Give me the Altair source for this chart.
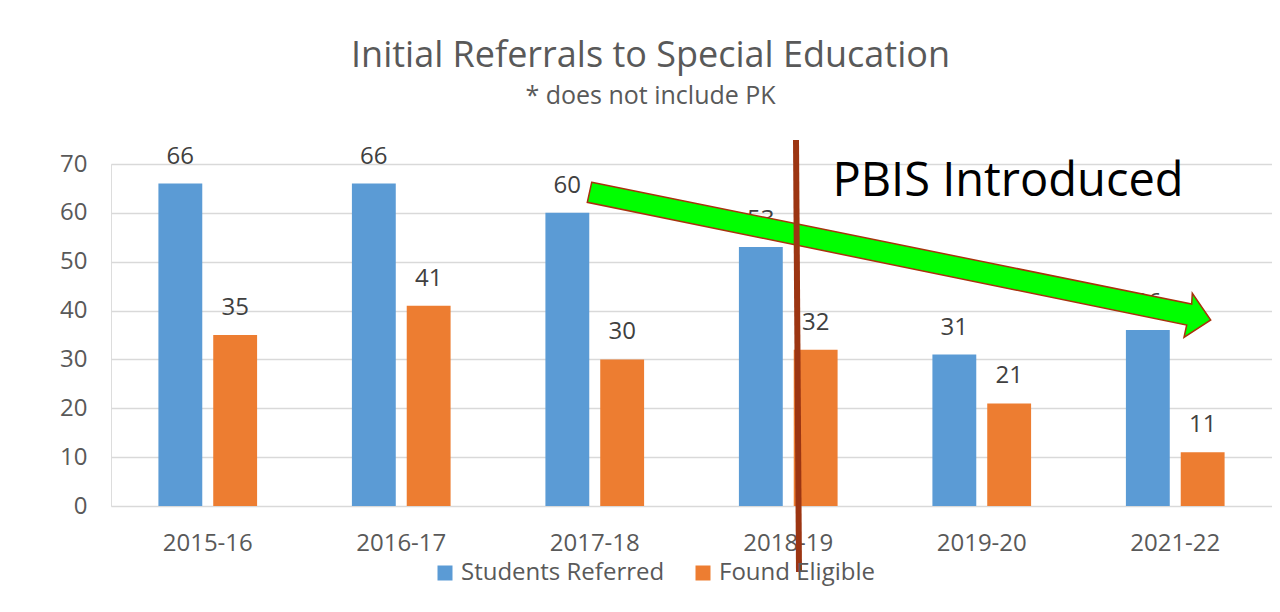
import altair as alt
import pandas as pd

# ---- data ----
years = ["2015-16", "2016-17", "2017-18", "2018-19", "2019-20", "2021-22"]
students_referred = [66, 66, 60, 53, 31, 36]
found_eligible = [35, 41, 30, 32, 21, 11]
series_names = ["Students Referred", "Found Eligible"]
series_colors = ["#5B9BD5", "#ED7D31"]
y_ticks = [0, 10, 20, 30, 40, 50, 60, 70]

annotation_text = "PBIS Introduced"

# annotation geometry (pixels in the plot area)
arrow_outline = [(480.7, 18.3), (1080.7, 140.0), (1081.3, 129.3), (1099.7, 156.0),
                 (1073.0, 173.3), (1075.7, 161.0), (476.3, 38.3)]
divider_ends = [(685, -24), (688, 408)]
label_pos = (897, 18)

rows = []
for yr, r, e in zip(years, students_referred, found_eligible):
    rows.append({"year": yr, "series": series_names[0], "value": r})
    rows.append({"year": yr, "series": series_names[1], "value": e})
df = pd.DataFrame(rows)

FONT = "Open Sans"

x_enc = alt.X("year:N", sort=years, title=None,
              scale=alt.Scale(paddingInner=0.49, paddingOuter=0.245),
              axis=alt.Axis(labelAngle=0, labelFontSize=24, labelColor="#595959",
                            labelFont=FONT, ticks=False, domain=False, labelPadding=25))
xoff = alt.XOffset("series:N", sort=series_names,
                   scale=alt.Scale(paddingInner=0.2, paddingOuter=0))
y_enc = alt.Y("value:Q", title=None, scale=alt.Scale(domain=[0, 70], nice=False),
              axis=alt.Axis(values=y_ticks, labelFontSize=24, labelColor="#595959",
                            labelFont=FONT, ticks=False, domain=False, labelPadding=24,
                            gridColor="#D9D9D9", gridWidth=1.5))

bars = alt.Chart(df).mark_bar().encode(
    x=x_enc, xOffset=xoff, y=y_enc,
    color=alt.Color("series:N", sort=series_names,
                    scale=alt.Scale(domain=series_names, range=series_colors),
                    legend=alt.Legend(title=None, orient="none", legendX=322, legendY=397,
                                      direction="horizontal", symbolType="square",
                                      symbolSize=225, symbolStrokeWidth=0,
                                      labelFontSize=24, labelColor="#595959",
                                      labelFont=FONT, labelOffset=4, columnPadding=26,
                                      labelLimit=400)),
)

labels = alt.Chart(df).mark_text(fontSize=24, color="#404040", font=FONT,
                                 baseline="alphabetic", dy=-20).encode(
    x=alt.X("year:N", sort=years), xOffset=alt.XOffset("series:N", sort=series_names),
    y="value:Q", text="value:Q")

arrow_feature = {
    "type": "Feature", "properties": {},
    "geometry": {"type": "Polygon",
                 "coordinates": [[list(p) for p in arrow_outline] + [list(arrow_outline[0])]]},
}
arrow = alt.Chart(alt.Data(values=[arrow_feature])).mark_geoshape(
    fill="#00FF00", stroke="#A8320C", strokeWidth=1.5
).project(type="identity", scale=1, translate=[0, 0])

divider = alt.Chart(alt.Data(values=[{"k": 1}])).mark_rule(
    color="#9C3512", strokeWidth=6
).encode(x=alt.value(divider_ends[0][0]), x2=alt.value(divider_ends[1][0]),
         y=alt.value(divider_ends[0][1]), y2=alt.value(divider_ends[1][1]))

pbis = alt.Chart(alt.Data(values=[{"t": annotation_text}])).mark_text(
    fontSize=47, color="#000000", font=FONT, align="center", baseline="middle"
).encode(x=alt.value(label_pos[0]), y=alt.value(label_pos[1]), text="t:N")

chart = alt.layer(bars, labels, arrow, divider, pbis).properties(
    width=1161, height=342,
    autosize="none",
    padding={"left": 103, "top": 156, "right": 0, "bottom": 98},
    title=alt.TitleParams(
        text="Initial Referrals to Special Education",
        subtitle="* does not include PK",
        fontSize=36, font=FONT, color="#595959", fontWeight="normal",
        subtitleFontSize=25, subtitleFont=FONT, subtitleColor="#595959",
        subtitlePadding=9, anchor="middle", dx=-41, offset=27,
    ),
).configure_view(stroke=None).configure(background="white")

chart.save("out.html", embed_options={"renderer": "svg", "actions": False})
